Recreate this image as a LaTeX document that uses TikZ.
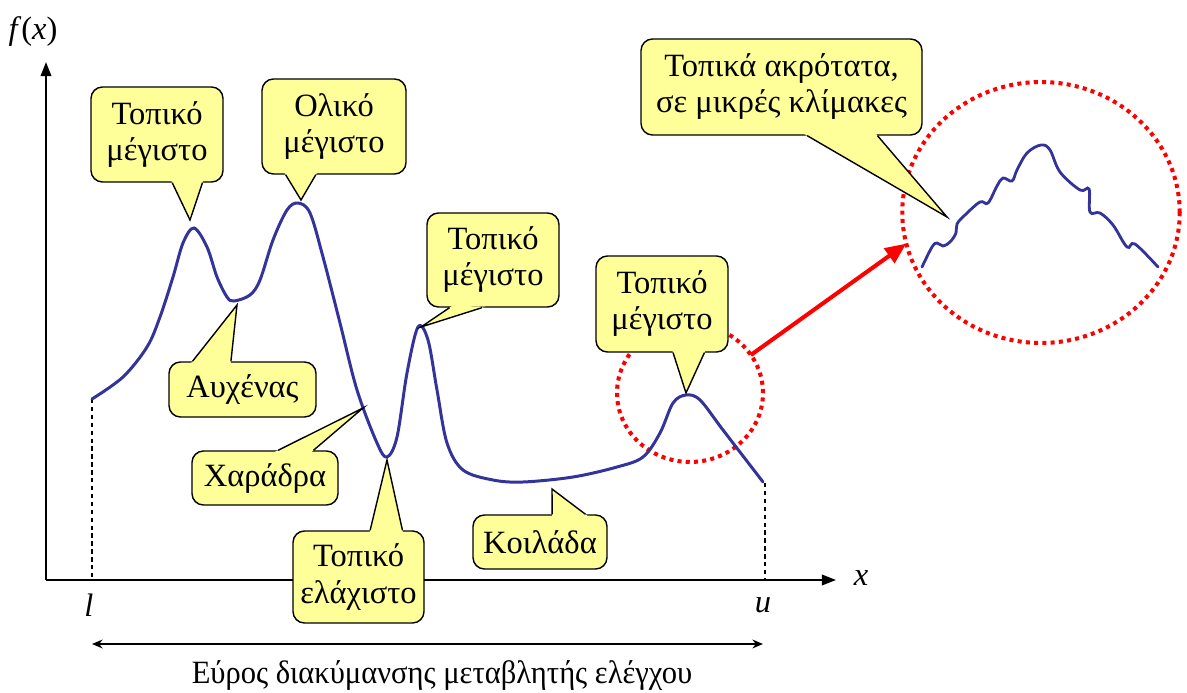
\documentclass[tikz,border=0pt]{standalone}
\usepackage{fontspec}
\setmainfont{Liberation Serif}
\newfontfamily\narrowserif[FakeStretch=0.94]{Liberation Serif}
\usetikzlibrary{arrows.meta, positioning, calc, shapes.geometric}
\definecolor{bubblefill}{RGB}{255,255,153}
\definecolor{curveblue}{RGB}{51,51,153}
\definecolor{zoomred}{RGB}{255,0,0}

\newcommand{\bubblefont}{\fontsize{18.5pt}{20.5pt}\selectfont}
\tikzset{
  bubble/.style={draw=black, line width=0.8pt, fill=bubblefill, rounded corners=6.5pt,
    align=center, inner sep=0pt, font=\bubblefont},
  tailline/.style={draw=black, line width=0.8pt},
  zoomring/.style={ellipse, draw=zoomred, line width=2.3pt, dash pattern=on 2.3pt off 2.4pt,
    inner sep=0pt, outer sep=0pt},
  axisline/.style={line width=1.1pt, -{Triangle[length=8pt,width=6pt]}},
}
% tail of a callout: node, side from, side to, base fractions, tip
\newcommand{\bubbletail}[6]{%
  \coordinate (#1-a) at ($(#1.#2)!#4!(#1.#3)$);
  \coordinate (#1-b) at ($(#1.#2)!#5!(#1.#3)$);
  \fill[bubblefill] ($(#1-a)!-2pt!(#6)$) -- (#6) -- ($(#1-b)!-2pt!(#6)$) -- cycle;
  \draw[tailline] (#1-a) -- (#6) -- (#1-b);
}

\begin{document}
\begin{tikzpicture}[x=0.02cm, y=-0.02cm]
  \useasboundingbox (0,0) rectangle (1187,693);

  % axes
  \coordinate (origin) at (46,580);
  \coordinate (ytop) at (46,62);
  \coordinate (xend) at (836,580);
  \draw[axisline] (origin) -- (ytop);
  \draw[axisline] (origin) -- (xend);
  \node (fx) at (33,32) {\bubblefont\itshape f\/\upshape(\itshape x\/\upshape)};
  \node (xlab) at (861,578) {\bubblefont\itshape x};
  \node (llab) at (89,605) {\bubblefont\itshape l};
  \node (ulab) at (763,605) {\bubblefont\itshape u};

  % range of the variable
  \coordinate (lTop) at (92,399);
  \coordinate (lBot) at (92,580);
  \coordinate (uTop) at (765,483);
  \coordinate (uBot) at (765,580);
  \draw[line width=0.6pt, dash pattern=on 2.5pt off 2pt] (lTop) -- (lBot);
  \draw[line width=0.6pt, dash pattern=on 2.5pt off 2pt] (uTop) -- (uBot);
  \coordinate (rngL) at (92,644);
  \coordinate (rngR) at (763,644);
  \draw[line width=1.1pt, {Stealth[length=6pt,width=5pt]}-{Stealth[length=6pt,width=5pt]}] (rngL) -- (rngR);
  \node (range) at (442,676) {\bubblefont\narrowserif Εύρος διακύμανσης μεταβλητής ελέγχου};

  % zoom rings
  \node[zoomring, minimum width=2.92cm, minimum height=2.76cm] (ringS) at (690,393) {};
  \node[zoomring, minimum width=5.55cm, minimum height=5.22cm] (ringB) at (1041,212.5) {};
  \draw[zoomred, line width=2.3pt, -{Triangle[length=12pt,width=10pt]}] (ringS.32) -- (ringB.193);

  % objective function
  \draw[curveblue, line width=1.7pt, line cap=round] plot[smooth, tension=0.55] coordinates {
    (92,399) (123,377) (147,347) (160,317) (173,277) (183,243) (194,228) (207,247)
    (217,277) (227,297) (234,301) (250,295) (260,280) (273,240) (287,210) (298,203)
    (310,213) (323,257) (340,323) (357,390) (377,443) (387,457) (397,437) (407,373)
    (418,327) (428,340) (437,390) (447,443) (463,470) (493,480) (523,482) (573,477)
    (617,467) (643,457) (660,433) (673,403) (686,395) (700,400) (723,430) (763,482)};
  % small scale detail
  \draw[curveblue, line width=1.6pt, line cap=round] plot[smooth, tension=0.6] coordinates {
    (922,267) (932,247) (937,243) (943,246) (950,242) (956,233) (957,224) (965,215)
    (980,202) (988,203) (997,186) (1003,178) (1012,181) (1017,170) (1027,153) (1041,145)
    (1050,150) (1060,172) (1080,190) (1089,189) (1090,212) (1100,213) (1113,225)
    (1127,247) (1135,244) (1158,267)};

  % callouts
  \coordinate (tipA) at (190,220);
  \coordinate (tipB) at (301,200);
  \coordinate (tipC) at (421,327);
  \coordinate (tipD) at (686,393);
  \coordinate (tipE) at (947,217);
  \coordinate (tipF) at (237,305);
  \coordinate (tipG) at (363,408);
  \coordinate (tipH) at (387,460);
  \coordinate (tipK) at (552,489);

  \node[bubble, minimum width=2.64cm, minimum height=1.9cm] (maxA) at (157,134.5) {Τοπικό\\μέγιστο};
  \bubbletail{maxA}{south west}{south east}{0.614}{0.841}{tipA}
  \node[bubble, minimum width=2.88cm, minimum height=1.9cm] (maxG) at (334,126.5) {Ολικό\\μέγιστο};
  \bubbletail{maxG}{south west}{south east}{0.167}{0.375}{tipB}
  \node[bubble, minimum width=2.64cm, minimum height=1.88cm] (maxC) at (493,260) {Τοπικό\\μέγιστο};
  \bubbletail{maxC}{south west}{south east}{0.174}{0.417}{tipC}
  \node[bubble, minimum width=2.64cm, minimum height=1.92cm] (maxD) at (662,304) {Τοπικό\\μέγιστο};
  \bubbletail{maxD}{south west}{south east}{0.583}{0.818}{tipD}
  \node[bubble, minimum width=5.62cm, minimum height=1.92cm] (extr) at (781.5,87) {Τοπικά ακρότατα,\\σε μικρές κλίμακες};
  \bubbletail{extr}{south west}{south east}{0.591}{0.84}{tipE}
  \node[bubble, minimum width=2.94cm, minimum height=1.1cm] (neck) at (242.5,389.5) {Αυχένας};
  \bubbletail{neck}{north west}{north east}{0.163}{0.422}{tipF}
  \node[bubble, minimum width=2.92cm, minimum height=1.08cm] (gorge) at (265,478) {Χαράδρα};
  \bubbletail{gorge}{north west}{north east}{0.589}{0.829}{tipG}
  \node[bubble, minimum width=2.62cm, minimum height=1.84cm] (minA) at (358.5,577) {Τοπικό\\ελάχιστο};
  \bubbletail{minA}{north west}{north east}{0.588}{0.832}{tipH}
  \node[bubble, minimum width=2.68cm, minimum height=1.08cm] (vall) at (540,542) {Κοιλάδα};
  \bubbletail{vall}{north west}{north east}{0.59}{0.836}{tipK}
\end{tikzpicture}
\end{document}
